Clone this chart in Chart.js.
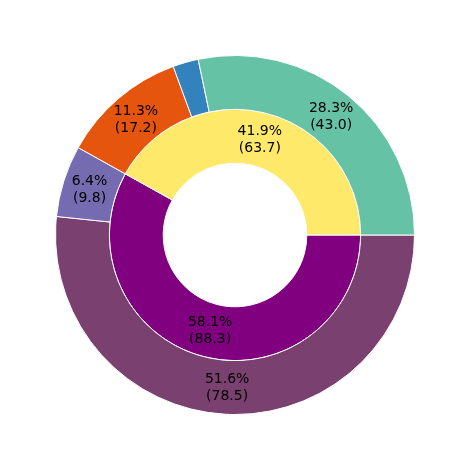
<!DOCTYPE html>
<html>
<head>
<meta charset="utf-8">
<script src="https://cdn.jsdelivr.net/npm/chart.js@4"></script>
<style>
  html, body { margin: 0; padding: 0; background: #fff; }
  #wrap { width: 469px; height: 470px; }
</style>
</head>
<body>
<div id="wrap"><canvas id="c"></canvas></div>
<script>
// 外側リング (反時計回りの順)
const outerLabels = ["A", "B", "C", "D", "E"];
const outerValues = [43.0, 3.5, 17.2, 9.8, 78.5];
const outerColors = ["#66c2a5", "#3182bd", "#e6550d", "#756bb1", "#7a406f"];
// 内側リング
const innerLabels = ["X", "Y"];
const innerValues = [63.7, 88.3];
const innerColors = ["#ffe96b", "#800080"];

// Chart.js は時計回りなので逆順に並べる
const rev = a => a.slice().reverse();

// 割合と値を弧の中央に描く
const labelPlugin = {
  id: "arcLabels",
  afterDatasetsDraw(chart) {
    const ctx = chart.ctx;
    ctx.save();
    ctx.fillStyle = "#000";
    ctx.font = "14px 'DejaVu Sans'";
    ctx.textAlign = "center";
    ctx.textBaseline = "middle";
    chart.data.datasets.forEach((ds, i) => {
      const total = ds.data.reduce((s, v) => s + v, 0);
      chart.getDatasetMeta(i).data.forEach((arc, j) => {
        const v = ds.data[j];
        const pct = v / total * 100;
        if (pct < 5) return;
        const p = arc.tooltipPosition();
        ctx.fillText(pct.toFixed(1) + "%", p.x, p.y - 8);
        ctx.fillText("(" + v.toFixed(1) + ")", p.x, p.y + 9);
      });
    });
    ctx.restore();
  }
};

new Chart(document.getElementById("c"), {
  type: "doughnut",
  data: {
    datasets: [
      { data: rev(outerValues), backgroundColor: rev(outerColors), borderColor: "#fff", borderWidth: 1 },
      { data: rev(innerValues), backgroundColor: rev(innerColors), borderColor: "#fff", borderWidth: 1 }
    ]
  },
  options: {
    responsive: true,
    maintainAspectRatio: false,
    animation: false,
    rotation: 90,
    cutout: "40%",
    layout: { padding: { left: 55, right: 54, top: 55, bottom: 55 } },
    plugins: { legend: { display: false }, tooltip: { enabled: false } }
  },
  plugins: [labelPlugin]
});
</script>
</body>
</html>
